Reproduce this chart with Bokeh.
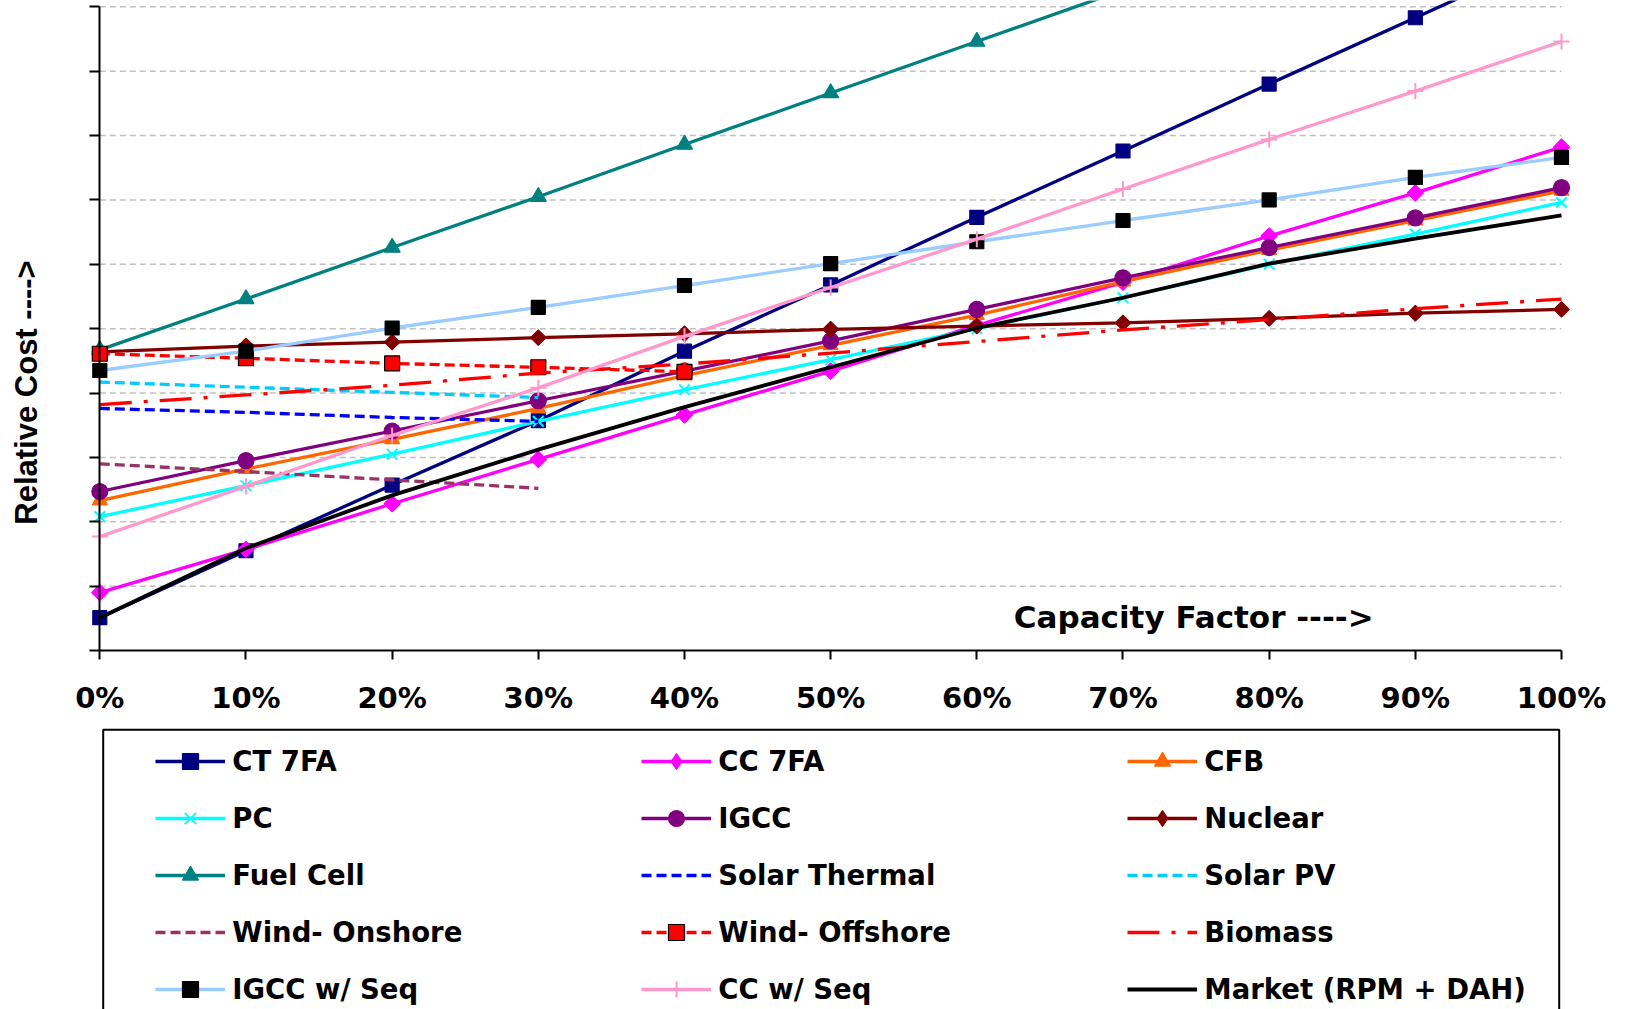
import math
from bokeh.plotting import figure
from bokeh.models import FixedTicker, Label, Legend, LegendItem, BoxAnnotation
from bokeh.embed import file_html
from bokeh.resources import INLINE

# ---------------- data ----------------
capacity_factor = [0, 10, 20, 30, 40, 50, 60, 70, 80, 90, 100]
x_tick_labels = ["0%", "10%", "20%", "30%", "40%", "50%", "60%", "70%", "80%", "90%", "100%"]
y_ticks = [0, 1, 2, 3, 4, 5, 6, 7, 8, 9, 10]

ct_7fa = [0.51, 1.55, 2.57, 3.57, 4.65, 5.68, 6.73, 7.76, 8.80, 9.83, 10.86]
cc_7fa = [0.90, 1.57, 2.28, 2.97, 3.66, 4.34, 5.05, 5.72, 6.44, 7.11, 7.82]
cfb = [2.33, 2.82, 3.28, 3.76, 4.27, 4.74, 5.21, 5.73, 6.22, 6.68, 7.14]
pc = [2.08, 2.56, 3.05, 3.56, 4.05, 4.52, 5.00, 5.48, 6.00, 6.47, 6.96]
igcc = [2.47, 2.95, 3.41, 3.88, 4.34, 4.81, 5.30, 5.79, 6.26, 6.72, 7.19]
nuclear = [4.64, 4.73, 4.79, 4.86, 4.92, 4.99, 5.04, 5.09, 5.16, 5.24, 5.30]
fuel_cell = [4.67, 5.46, 6.26, 7.05, 7.86, 8.66, 9.46, 10.26]
solar_thermal = [3.76, 3.70, 3.62, 3.56]
solar_pv = [4.17, 4.09, 4.01, 3.93]
wind_onshore = [2.90, 2.78, 2.65, 2.52]
wind_offshore = [4.61, 4.54, 4.46, 4.40, 4.33]
biomass = [3.82, 3.97, 4.12, 4.31, 4.45, 4.62, 4.80, 4.98, 5.14, 5.31, 5.46]
igcc_seq = [4.35, 4.65, 5.01, 5.33, 5.67, 6.01, 6.35, 6.68, 7.00, 7.35, 7.66]
cc_seq = [1.77, 2.55, 3.34, 4.08, 4.88, 5.64, 6.39, 7.17, 7.94, 8.69, 9.46]
market = [0.51, 1.59, 2.41, 3.12, 3.78, 4.40, 5.01, 5.48, 6.01, 6.40, 6.76]

series_names = ["CT 7FA", "CC 7FA", "CFB", "PC", "IGCC", "Nuclear", "Fuel Cell",
                "Solar Thermal", "Solar PV", "Wind- Onshore", "Wind- Offshore",
                "Biomass", "IGCC w/ Seq", "CC w/ Seq", "Market (RPM + DAH)"]
series_values = [ct_7fa, cc_7fa, cfb, pc, igcc, nuclear, fuel_cell, solar_thermal,
                 solar_pv, wind_onshore, wind_offshore, biomass, igcc_seq, cc_seq, market]

# ---------------- styles ----------------
# "dia" = diamond: drawn as a rotated square on the plot, as a diamond in the legend
styles = [
    dict(color="#000080", dash="solid", marker="square", msize=14, mfill="#000080", mline="#000080"),
    dict(color="#FF00FF", dash="solid", marker="dia", msize=11.5, mfill="#FF00FF", mline="#FF00FF"),
    dict(color="#FF6600", dash="solid", marker="triangle", msize=15, mfill="#FF6600", mline="#FF6600"),
    dict(color="#00FFFF", dash="solid", marker="x", msize=15, mfill="#00FFFF", mline="#00FFFF"),
    dict(color="#800080", dash="solid", marker="circle", msize=16, mfill="#800080", mline="#800080"),
    dict(color="#800000", dash="solid", marker="dia", msize=11, mfill="#800000", mline="#800000"),
    dict(color="#008080", dash="solid", marker="triangle", msize=16, mfill="#008080", mline="#008080"),
    dict(color="#0000FF", dash="10 5", marker=None),
    dict(color="#00CCFF", dash="10 5", marker=None),
    dict(color="#993366", dash="10 5", marker=None),
    dict(color="#FF0000", dash="10 5", marker="square", msize=15, mfill="#FF0000", mline="#000000"),
    dict(color="#FF0000", dash="32 12 4 12", marker=None),
    dict(color="#99CCFF", dash="solid", marker="square", msize=14, mfill="#000000", mline="#000000"),
    dict(color="#FF99CC", dash="solid", marker="cross", msize=16, mfill="#FF99CC", mline="#FF99CC"),
    dict(color="#000000", dash="solid", marker=None),
]

# frame covers the whole canvas; axes are pinned at 0 inside it
X_PX = 14.617   # px per percent
Y_PX = 64.37    # px per unit
X0, Y0 = 99.3, 650.0
W, H = 1629, 1009
x_range = (-X0 / X_PX, (W - X0) / X_PX)
y_range = (-(H - Y0) / Y_PX, Y0 / Y_PX)

p = figure(width=W, height=H, output_backend="svg", toolbar_location=None,
           x_range=x_range, y_range=y_range,
           min_border_left=0, min_border_right=0, min_border_top=0, min_border_bottom=0,
           background_fill_color="white", border_fill_color="white", outline_line_color=None)

p.xgrid.visible = False
p.ygrid.visible = False

# horizontal dashed gridlines between 0% and 100%
p.segment(x0=capacity_factor[0], x1=capacity_factor[-1], y0=y_ticks[1:], y1=y_ticks[1:],
          line_color="#C0C0C0", line_width=1.5, line_dash="6 4")

# axes
p.xaxis.fixed_location = 0
p.xaxis.bounds = (capacity_factor[0], capacity_factor[-1])
p.xaxis.ticker = FixedTicker(ticks=capacity_factor)
p.xaxis.major_label_overrides = {v: s for v, s in zip(capacity_factor, x_tick_labels)}
p.xaxis.major_tick_in = 0
p.xaxis.major_tick_out = 9
p.xaxis.minor_tick_in = 0
p.xaxis.minor_tick_out = 0
p.xaxis.major_label_standoff = 21
p.xaxis.major_label_text_font = "DejaVu Sans"
p.xaxis.major_label_text_font_style = "bold"
p.xaxis.major_label_text_font_size = "29px"
p.xaxis.major_label_text_color = "black"

p.yaxis.fixed_location = 0
p.yaxis.bounds = (y_ticks[0], y_ticks[-1])
p.yaxis.ticker = FixedTicker(ticks=y_ticks)
p.yaxis.major_label_text_color = None
p.yaxis.major_label_text_alpha = 0
p.yaxis.major_tick_in = 0
p.yaxis.major_tick_out = 10
p.yaxis.minor_tick_in = 0
p.yaxis.minor_tick_out = 0

for ax in (p.xaxis, p.yaxis):
    ax.axis_line_color = "black"
    ax.axis_line_width = 2
    ax.major_tick_line_color = "black"
    ax.major_tick_line_width = 2

# series
items = []
for name, vals, st in zip(series_names, series_values, styles):
    xs = capacity_factor[:len(vals)]
    lw = 3.8 if name.startswith("Market") else 3.3
    lr = p.line(xs, vals, line_color=st["color"], line_width=lw, line_dash=st["dash"])
    legend_rends = [lr]
    mk = st["marker"]
    if mk is not None:
        mlw = 2 if mk in ("x", "cross") else 1.2
        if mk == "dia":
            p.scatter(xs, vals, marker="square", size=st["msize"], angle=math.pi / 4,
                      fill_color=st["mfill"], line_color=st["mline"], line_width=mlw)
            # hidden twin, used only so that the legend shows a diamond
            lg = p.scatter(xs, vals, marker="diamond", size=st["msize"] * 1.45,
                           fill_color=st["mfill"], line_color=st["mline"], line_width=mlw,
                           visible=False)
            legend_rends.append(lg)
        else:
            sr = p.scatter(xs, vals, marker=mk, size=st["msize"],
                           fill_color=st["mfill"], line_color=st["mline"], line_width=mlw)
            legend_rends.append(sr)
    items.append(LegendItem(label=name, renderers=legend_rends))

# axis titles
p.add_layout(Label(x=62.53, y=0.521, text="Capacity Factor ---->",
                   text_font="DejaVu Sans", text_font_style="bold",
                   text_font_size="31px", text_color="black",
                   text_align="left", text_baseline="alphabetic"))
p.add_layout(Label(x=(26.2 - X0) / X_PX, y=(Y0 - 392) / Y_PX, text="Relative Cost ---->",
                   angle=math.pi / 2,
                   text_font="Liberation Sans",
                   text_font_style="bold", text_font_size="31px", text_color="black",
                   text_align="center", text_baseline="alphabetic"))

# legend frame (its bottom edge lies below the page)
p.add_layout(BoxAnnotation(left=(102.7 - X0) / X_PX, right=(1558.7 - X0) / X_PX,
                           top=(Y0 - 729.3) / Y_PX, bottom=-8,
                           fill_color=None, fill_alpha=0,
                           line_color="black", line_alpha=1, line_width=2))

legend = Legend(items=items, location=(145.3, H - 1019.3), orientation="horizontal", ncols=3,
                padding=10, margin=0, spacing=17, glyph_width=70, glyph_height=40,
                label_width=392, label_height=40, label_standoff=7,
                border_line_alpha=0, background_fill_alpha=0,
                label_text_font="DejaVu Sans", label_text_font_style="bold",
                label_text_font_size="27.5px", label_text_color="black",
                label_text_baseline="middle")
p.add_layout(legend, "center")

open("out.html", "w").write(file_html(p, INLINE))
